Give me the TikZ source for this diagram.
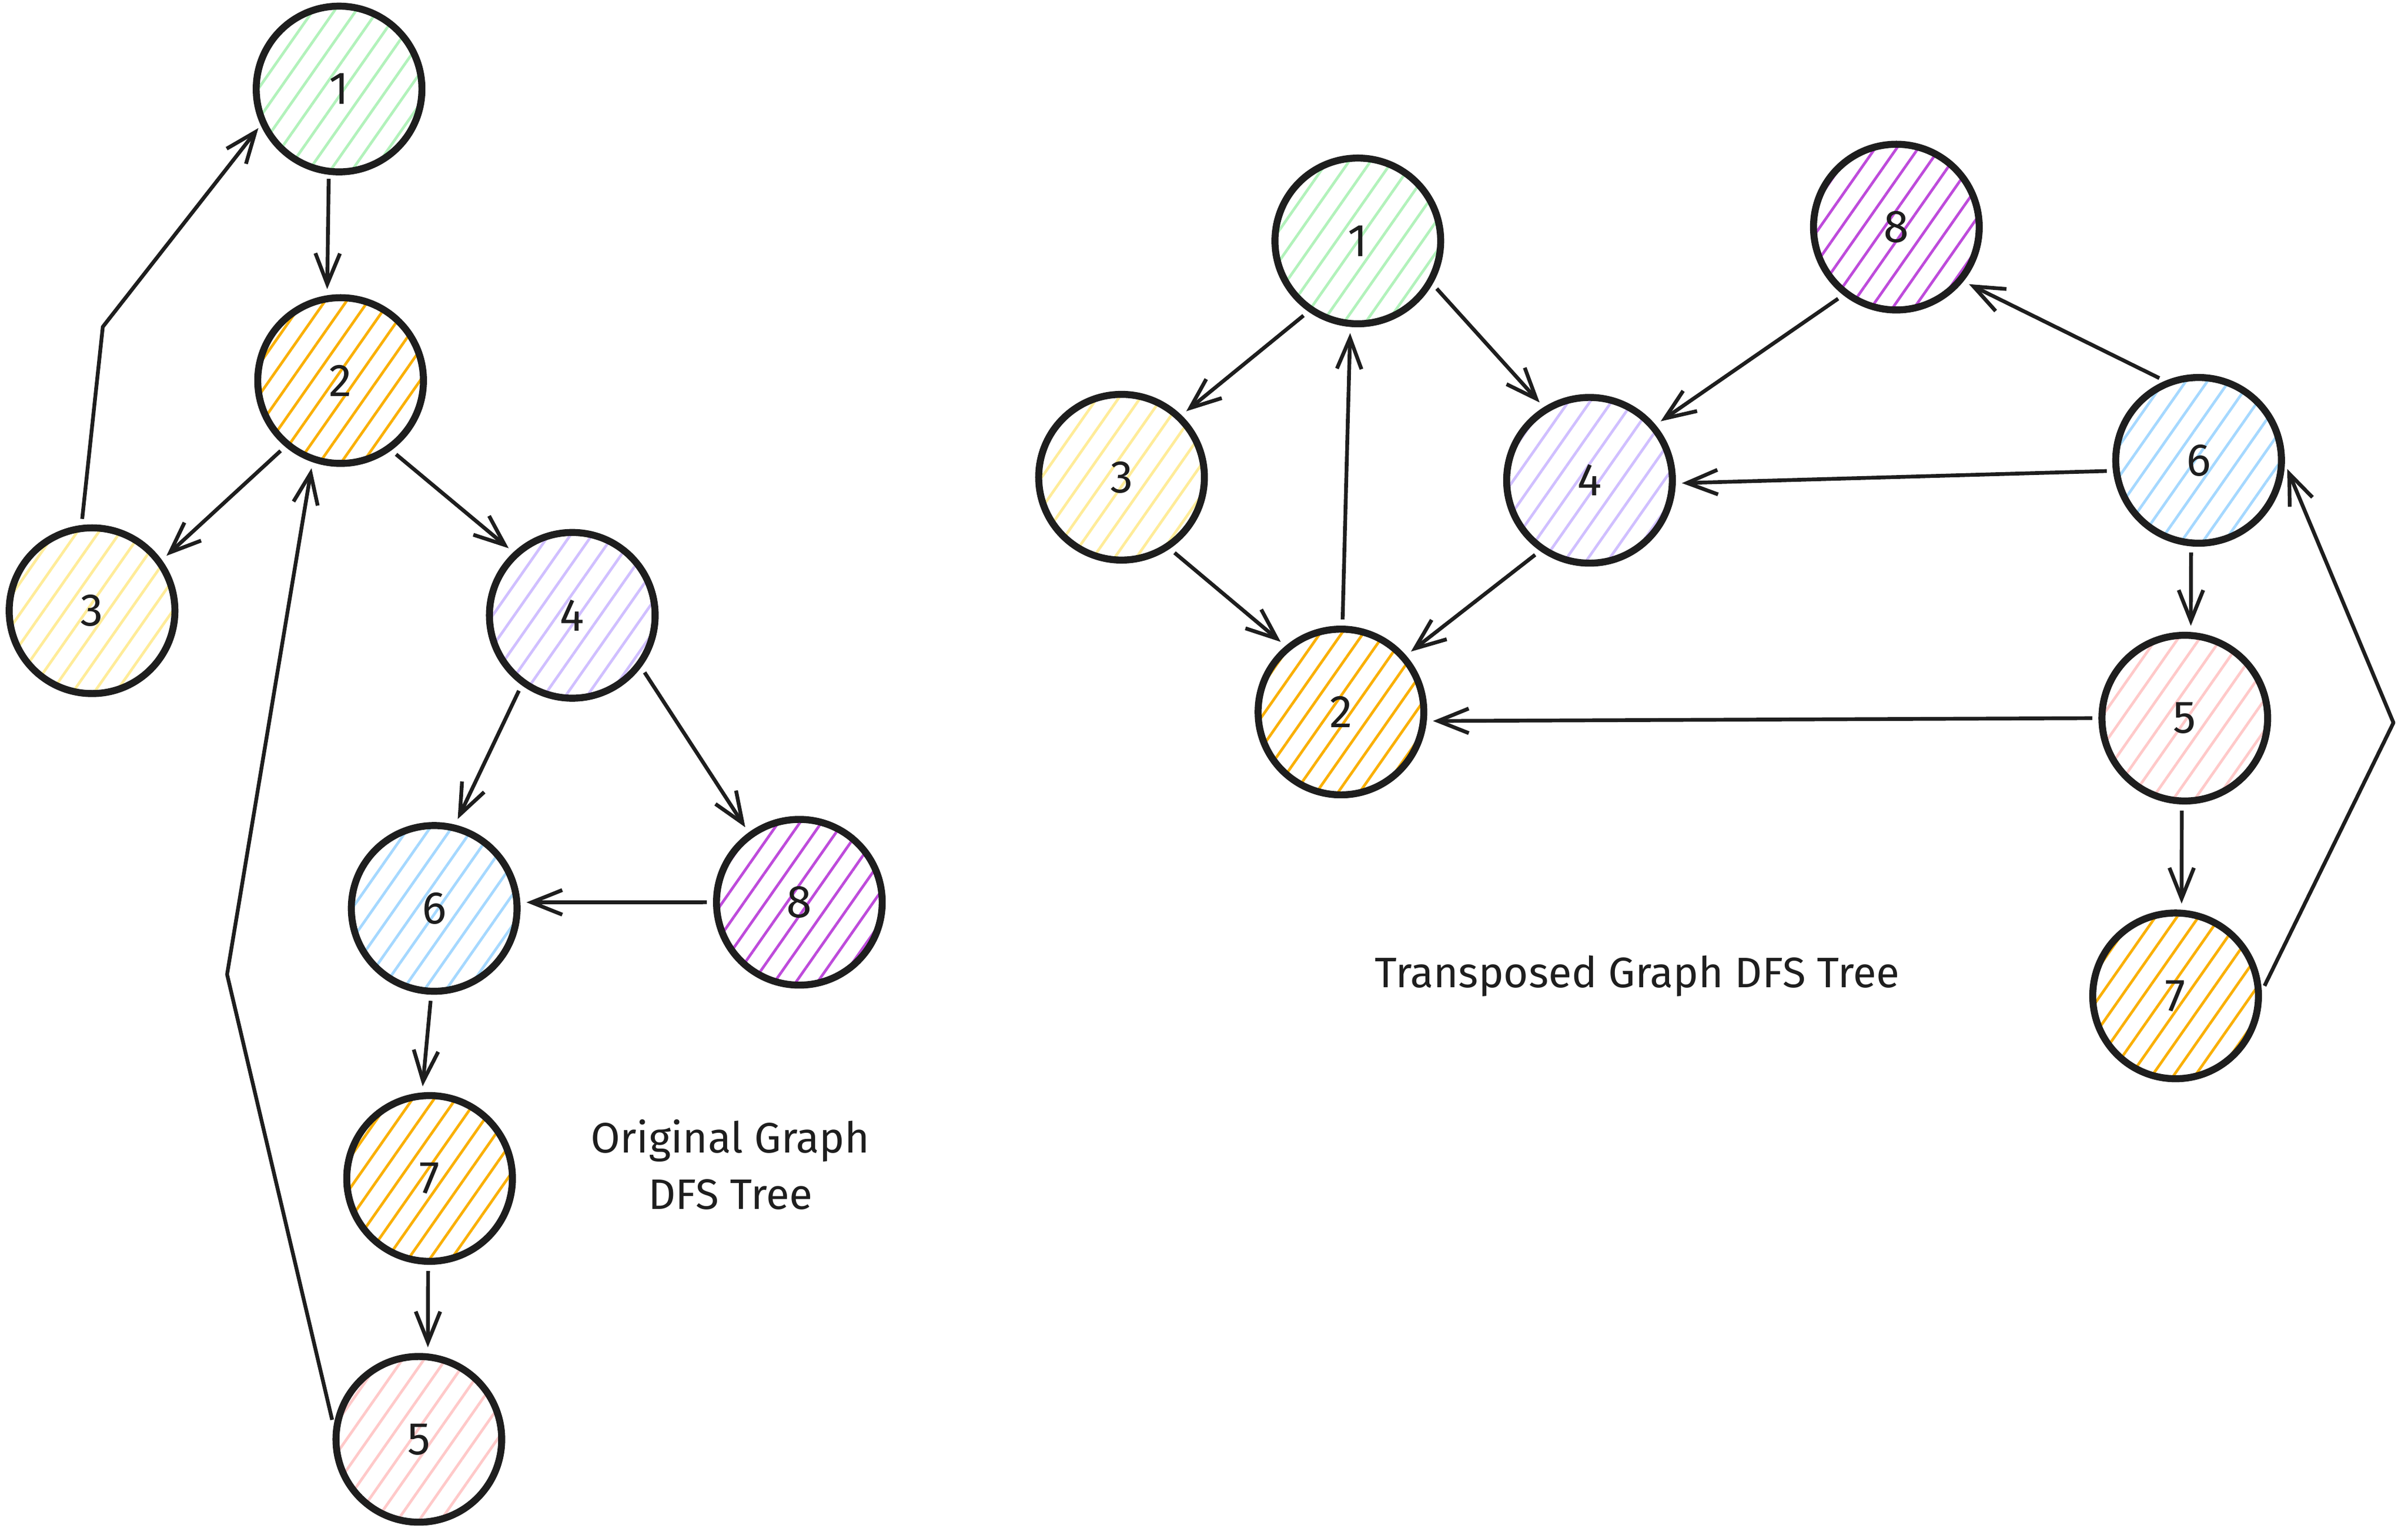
\documentclass[tikz,border=0pt]{standalone}
\usepackage{fontspec}
\setmainfont{Fira Sans}
\usepackage{xcolor}
\usepackage{tikz}
\usetikzlibrary{arrows.meta,patterns.meta}
\definecolor{ink}{HTML}{1E1E1E}
\definecolor{mint}{HTML}{B2F2BB}
\definecolor{amber}{HTML}{FAB005}
\definecolor{lemon}{HTML}{FFEC99}
\definecolor{lilac}{HTML}{D0BFFF}
\definecolor{sky}{HTML}{A5D8FF}
\definecolor{grape}{HTML}{BE4BDB}
\definecolor{blush}{HTML}{FFC9C9}
\tikzset{
  dfsNode/.style={circle, draw=ink, line width=1.3pt, minimum size=10.8mm, inner sep=0pt,
    font=\fontsize{8.5}{10}\selectfont, text=ink},
  dfsHatch/.style={pattern={Lines[angle=55,distance=1.15mm,line width=0.5pt]}, pattern color=#1},
  dfsEdge/.style={draw=ink, line width=0.7pt, line join=round,
    -{Straight Barb[length=2mm,width=1.6mm]}, shorten <=0.4mm, shorten >=0.4mm},
  dfsText/.style={text=ink, font=\fontsize{7.9}{10.5}\selectfont, align=center}
}

\begin{document}
\begin{tikzpicture}[x=0.1mm, y=-0.1mm]
  \useasboundingbox (0,0) rectangle (1569.5,1000);

  % original graph
  \node[dfsNode, dfsHatch=mint]  (l1) at (221,58)  {1};
  \node[dfsNode, dfsHatch=amber] (l2) at (222,248) {2};
  \node[dfsNode, dfsHatch=lemon] (l3) at (60,398)  {3};
  \node[dfsNode, dfsHatch=lilac] (l4) at (373,401) {4};
  \node[dfsNode, dfsHatch=sky]   (l6) at (283,592) {6};
  \node[dfsNode, dfsHatch=grape] (l8) at (521,588) {8};
  \node[dfsNode, dfsHatch=amber] (l7) at (280,768) {7};
  \node[dfsNode, dfsHatch=blush] (l5) at (273,938) {5};

  \coordinate (l3bend) at (67,213);
  \coordinate (l5bend) at (148,635);

  \draw[dfsEdge] (l1.-97) -- (l2.99);
  \draw[dfsEdge] (l3.97) -- (l3bend) -- (l1.204);
  \draw[dfsEdge] (l2.-130) -- (l3.36);
  \draw[dfsEdge] (l2.-54) -- (l4.133);
  \draw[dfsEdge] (l4.-126) -- (l6.76);
  \draw[dfsEdge] (l4.-37) -- (l8.126);
  \draw[dfsEdge] (l8.180) -- (l6.4);
  \draw[dfsEdge] (l6.-92) -- (l7.95);
  \draw[dfsEdge] (l7.-91) -- (l5.84);
  \draw[dfsEdge] (l5.171) -- (l5bend) -- (l2.-109);

  \node[dfsText] (ltitle) at (476,759) {Original Graph\\DFS Tree};

  % transposed graph
  \node[dfsNode, dfsHatch=mint]  (r1) at (885,157)  {1};
  \node[dfsNode, dfsHatch=grape] (r8) at (1236,148) {8};
  \node[dfsNode, dfsHatch=lemon] (r3) at (731,311)  {3};
  \node[dfsNode, dfsHatch=lilac] (r4) at (1036,313) {4};
  \node[dfsNode, dfsHatch=sky]   (r6) at (1433,300) {6};
  \node[dfsNode, dfsHatch=amber] (r2) at (874,464)  {2};
  \node[dfsNode, dfsHatch=blush] (r5) at (1424,468) {5};
  \node[dfsNode, dfsHatch=amber] (r7) at (1418,649) {7};

  \coordinate (r7bend) at (1560,471);

  \draw[dfsEdge] (r1.-125) -- (r3.46);
  \draw[dfsEdge] (r1.-30) -- (r4.122);
  \draw[dfsEdge] (r3.-56) -- (r2.130);
  \draw[dfsEdge] (r4.-125) -- (r2.41);
  \draw[dfsEdge] (r2.89) -- (r1.-95);
  \draw[dfsEdge] (r8.-128) -- (r4.40);
  \draw[dfsEdge] (r6.113) -- (r8.-39);
  \draw[dfsEdge] (r6.-173) -- (r4.-2);
  \draw[dfsEdge] (r6.-95) -- (r5.86);
  \draw[dfsEdge] (r5.180) -- (r2.-6);
  \draw[dfsEdge] (r5.-92) -- (r7.86);
  \draw[dfsEdge] (r7.3) -- (r7bend) -- (r6.-2);

  \node[dfsText] (rtitle) at (1067,636) {Transposed Graph DFS Tree};
\end{tikzpicture}
\end{document}
